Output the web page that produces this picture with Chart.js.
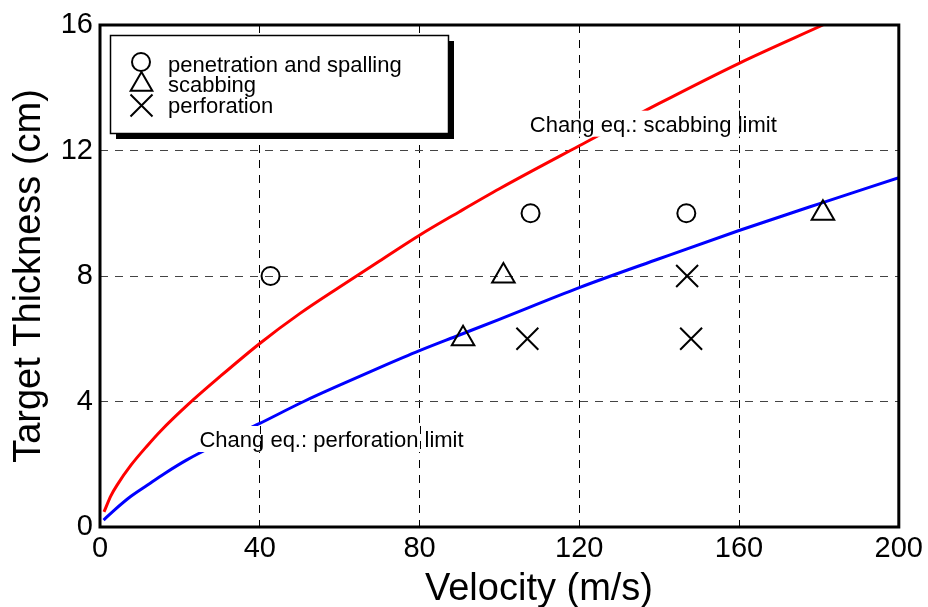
<!DOCTYPE html>
<html><head><meta charset="utf-8">
<script src="https://cdn.jsdelivr.net/npm/chart.js@4/dist/chart.umd.min.js"></script>
<style>html,body{margin:0;padding:0;background:#fff;}</style>
</head><body>
<canvas id="c" width="928" height="607"></canvas>
<script>
// ---- data ----
const xTicks = [0, 40, 80, 120, 160, 200];
const yTicks = [0, 4, 8, 12, 16];
// Chang eq. scabbing limit (red)
const scabLimitX = [1, 2.75, 4.4, 7.75, 11.9, 15.25, 22, 30, 40, 50, 60, 70, 80, 90, 100, 120, 140, 160, 181];
const scabLimitY = [0.48, 1.0, 1.36, 1.97, 2.6, 3.07, 3.9, 4.79, 5.85, 6.8, 7.65, 8.48, 9.3, 10.05, 10.78, 12.15, 13.5, 14.78, 16.0];
// Chang eq. perforation limit (blue)
const perfLimitX = [0.9, 3.6, 7.75, 11.9, 16.1, 21.75, 30, 40, 51, 60, 70, 80, 90, 100, 120, 140, 160, 180, 200];
const perfLimitY = [0.22, 0.54, 0.98, 1.34, 1.7, 2.14, 2.68, 3.3, 4.0, 4.52, 5.08, 5.62, 6.12, 6.62, 7.63, 8.55, 9.45, 10.3, 11.13];
// test results
const penetrationX = [42.7, 107.8, 146.8];
const penetrationY = [8, 10, 10];
const scabbingX = [90.9, 101, 181];
const scabbingY = [6, 8, 10];
const perforationX = [107, 147, 148];
const perforationY = [6, 8, 6];
const legendLabels = ['penetration and spalling', 'scabbing', 'perforation'];
const curveLabels = ['Chang eq.: scabbing limit', 'Chang eq.: perforation limit'];
const xTitle = 'Velocity (m/s)';
const yTitle = 'Target Thickness (cm)';

const FONT = "'Liberation Sans', Arial, sans-serif";
const pts = (xs, ys) => xs.map((x, i) => ({x: x, y: ys[i]}));

const annotPlugin = {
  id: 'annot',
  afterDatasetsDraw(chart) {
    const ctx = chart.ctx, xs = chart.scales.x, ys = chart.scales.y;
    const labels = [
      {text: curveLabels[0], x: 107.6, y: 12.6},
      {text: curveLabels[1], x: 24.9, y: 2.55}
    ];
    ctx.save();
    ctx.font = '22px ' + FONT;
    labels.forEach(l => {
      const px = xs.getPixelForValue(l.x), py = ys.getPixelForValue(l.y);
      const w = ctx.measureText(l.text).width;
      const top = py - 21, bot = py + 5;
      ctx.fillStyle = '#fff';
      ctx.fillRect(px - 3, top, w + 6, bot - top);
      // redraw vertical grid dashes that pass under the label box
      ctx.strokeStyle = '#000'; ctx.lineWidth = 1; ctx.setLineDash([8, 7]);
      xTicks.forEach(t => {
        const gx = Math.round(xs.getPixelForValue(t)) + 0.5;
        if (gx > px - 3 && gx < px + w + 3) {
          ctx.beginPath(); ctx.moveTo(gx, top); ctx.lineTo(gx, bot); ctx.stroke();
        }
      });
      ctx.setLineDash([]);
      ctx.fillStyle = '#000'; ctx.textBaseline = 'alphabetic'; ctx.textAlign = 'left';
      ctx.fillText(l.text, px, py);
    });
    ctx.restore();
  },
  afterDraw(chart) {
    const ctx = chart.ctx, a = chart.chartArea;
    ctx.save();
    // frame
    ctx.strokeStyle = '#000'; ctx.lineWidth = 3;
    ctx.strokeRect(a.left, a.top, a.right - a.left, a.bottom - a.top);
    // x axis title
    ctx.fillStyle = '#000'; ctx.font = '38px ' + FONT;
    ctx.textAlign = 'center'; ctx.textBaseline = 'alphabetic';
    ctx.fillText(xTitle, 539, 600);
    // legend box with shadow
    ctx.fillStyle = '#000';
    ctx.fillRect(116, 41, 338, 98);
    ctx.fillStyle = '#fff';
    ctx.fillRect(110, 35, 339, 99);
    ctx.strokeStyle = '#000'; ctx.lineWidth = 1.5;
    ctx.strokeRect(110.5, 35.5, 338, 98);
    ctx.lineWidth = 2;
    // circle
    ctx.beginPath(); ctx.arc(141, 62, 9, 0, Math.PI * 2); ctx.stroke();
    // triangle
    const tr = 12.5, tx = 141.5, ty = 84.5;
    ctx.beginPath();
    ctx.moveTo(tx, ty - tr);
    ctx.lineTo(tx + Math.sin(2 * Math.PI / 3) * tr, ty - Math.cos(2 * Math.PI / 3) * tr);
    ctx.lineTo(tx + Math.sin(4 * Math.PI / 3) * tr, ty - Math.cos(4 * Math.PI / 3) * tr);
    ctx.closePath(); ctx.stroke();
    // cross
    ctx.beginPath();
    ctx.moveTo(130.5, 94.5); ctx.lineTo(152.5, 116.5);
    ctx.moveTo(152.5, 94.5); ctx.lineTo(130.5, 116.5);
    ctx.stroke();
    ctx.fillStyle = '#000'; ctx.font = '22px ' + FONT; ctx.textAlign = 'left';
    ctx.fillText(legendLabels[0], 168, 72);
    ctx.fillText(legendLabels[1], 168, 92);
    ctx.fillText(legendLabels[2], 168, 113);
    ctx.restore();
  }
};

const markerBase = {showLine: false, borderColor: '#000', backgroundColor: 'rgba(0,0,0,0)', pointBorderWidth: 2, order: 0};

new Chart(document.getElementById('c'), {
  type: 'line',
  data: {
    datasets: [
      Object.assign({label: legendLabels[0], data: pts(penetrationX, penetrationY), pointStyle: 'circle', pointRadius: 9}, markerBase),
      Object.assign({label: legendLabels[1], data: pts(scabbingX, scabbingY), pointStyle: 'triangle', pointRadius: 13}, markerBase),
      Object.assign({label: legendLabels[2], data: pts(perforationX, perforationY), pointStyle: 'crossRot', pointRadius: 15.5}, markerBase),
      {label: curveLabels[0], data: pts(scabLimitX, scabLimitY), borderColor: '#ff0000', borderWidth: 3, pointRadius: 0, cubicInterpolationMode: 'monotone', fill: false, order: 1},
      {label: curveLabels[1], data: pts(perfLimitX, perfLimitY), borderColor: '#0000ff', borderWidth: 3, pointRadius: 0, cubicInterpolationMode: 'monotone', fill: false, order: 1}
    ]
  },
  options: {
    responsive: false,
    animation: false,
    devicePixelRatio: 1,
    layout: {padding: {top: 25, right: 27, left: 0, bottom: 0}},
    plugins: {legend: {display: false}, tooltip: {enabled: false}},
    scales: {
      x: {
        type: 'linear', min: 0, max: 200,
        afterBuildTicks: s => { s.ticks = xTicks.map(v => ({value: v})); },
        afterFit: s => { s.height = 80; },
        ticks: {color: '#000', font: {family: FONT, size: 29}, padding: 5, maxRotation: 0},
        grid: {color: '#000', lineWidth: 1, drawTicks: false},
        border: {display: false, dash: [8, 7]}
      },
      y: {
        type: 'linear', min: 0, max: 16,
        afterBuildTicks: s => { s.ticks = yTicks.map(v => ({value: v})); },
        afterFit: s => { s.width = 100; },
        ticks: {color: '#000', font: {family: FONT, size: 29}, padding: 7},
        grid: {color: '#444', lineWidth: 1, drawTicks: false},
        border: {display: false, dash: [8, 7]},
        title: {display: true, text: yTitle, color: '#000', font: {family: FONT, size: 38, lineHeight: 1}, padding: {top: 11, bottom: 0}}
      }
    }
  },
  plugins: [annotPlugin]
});
</script>
</body></html>
